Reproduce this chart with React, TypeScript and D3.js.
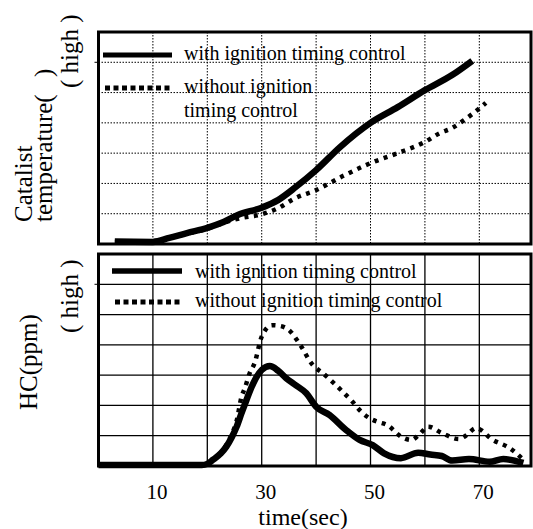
import React from 'react';
import * as d3 from 'd3';

// x axis (sec)
const timeTicks = [10, 30, 50, 70];
const gridTimes = [10, 20, 30, 40, 50, 60, 70];
const gridLevels = [1, 2, 3, 4, 5, 6];

// catalist temperature (relative units, 0..7 grid)
const tempWithT = [3, 10, 13, 16.25, 20, 22.5, 25.6, 30, 33, 36.25, 40, 44.4, 50, 55, 60, 65, 68.7];
const tempWithV = [0.08, 0.07, 0.2, 0.36, 0.53, 0.69, 0.96, 1.2, 1.45, 1.88, 2.44, 3.2, 4.0, 4.52, 5.08, 5.58, 6.05];
const tempWithoutT = [3, 10, 13, 16, 20, 23, 26, 30, 33, 36, 40, 45, 50, 55, 60, 62.7, 65, 67.2, 68.7, 70.1, 71.2];
const tempWithoutV = [0.07, 0.07, 0.2, 0.33, 0.5, 0.7, 0.85, 0.98, 1.18, 1.5, 1.78, 2.25, 2.67, 3.0, 3.37, 3.66, 3.83, 4.09, 4.29, 4.49, 4.66];

// HC (relative units, 0..7 grid)
const hcWithT = [0, 10, 19, 20, 21, 22.5, 23.5, 24.5, 25.4, 26.3, 27.2, 28.5, 30, 31.5, 33, 34.5, 36, 38.2, 40, 42.5, 45.5, 48, 50.4, 52.5, 55.6, 58.75, 61, 63.1, 65, 68.1, 71.9, 74.4, 78.1];
const hcWithV = [0.03, 0.03, 0.03, 0.07, 0.2, 0.42, 0.64, 0.95, 1.3, 1.75, 2.18, 2.75, 3.17, 3.3, 3.15, 2.9, 2.7, 2.4, 1.96, 1.68, 1.19, 0.86, 0.69, 0.42, 0.26, 0.44, 0.38, 0.33, 0.18, 0.23, 0.14, 0.23, 0.1];
const hcWithoutT = [0, 19, 20, 21, 22.5, 23.5, 24.5, 25.4, 26.3, 26.9, 27.8, 28.7, 30, 31.9, 33.5, 35, 36.9, 39.4, 41.2, 43, 44.9, 46.7, 48.3, 49.8, 51.5, 53.1, 55.6, 57.5, 59, 60.6, 63.1, 66.25, 67.5, 69.4, 72.5, 75.6, 77.8];
const hcWithoutV = [0.03, 0.03, 0.07, 0.2, 0.45, 0.7, 1.05, 1.5, 2.29, 2.57, 3.07, 3.4, 4.27, 4.65, 4.62, 4.49, 4.05, 3.33, 3.07, 2.78, 2.45, 2.12, 1.79, 1.58, 1.45, 1.35, 0.97, 0.86, 1.05, 1.3, 1.09, 0.89, 1.0, 1.25, 0.86, 0.59, 0.26];

const legendWith = 'with ignition timing control';
const legendWithout = 'without ignition timing control';

const x = d3.scaleLinear().domain([0, 79.5]).range([98.5, 531]);
const yTop = d3.scaleLinear().domain([0, 7]).range([244, 32]);
const yBot = d3.scaleLinear().domain([0, 7]).range([466, 254]);

const toPts = (ts: number[], vs: number[]) => ts.map((t, i) => [t, vs[i]] as [number, number]);

// serif text helper: font set on the text element itself
function T({ size, anchor, ...rest }: { size: number; anchor?: string; x?: number; y?: number; transform?: string; children: React.ReactNode }) {
  return (
    <text {...rest} textAnchor={anchor || 'start'} style={{ fontFamily: '"Liberation Serif"', fontSize: size }} />
  );
}

function Panel({ y, dotted, children }: { y: d3.ScaleLinear<number, number>; dotted: boolean; children?: React.ReactNode }) {
  const [x0, x1] = x.range();
  const [yb, yt] = y.range();
  const gridStyle = dotted
    ? { stroke: '#000', strokeWidth: 1, strokeDasharray: '1.5 1.5' }
    : { stroke: '#000', strokeWidth: 1.3 };
  return (
    <g>
      {gridTimes.map((t) => (
        <line key={'v' + t} x1={x(t)} x2={x(t)} y1={yt} y2={yb} {...gridStyle} />
      ))}
      {gridLevels.map((v) => (
        <line key={'h' + v} x1={x0} x2={x1} y1={y(v)} y2={y(v)} {...gridStyle} />
      ))}
      {/* small tick left of axis */}
      <line x1={x0 - 4} x2={x0} y1={y(6)} y2={y(6)} stroke="#000" strokeWidth={1} />
      {children}
      <rect x={x0} y={yt} width={x1 - x0} height={yb - yt} fill="none" stroke="#000" strokeWidth={3} />
    </g>
  );
}

export default function App() {
  const lineTop = d3.line<[number, number]>().x((d) => x(d[0])).y((d) => yTop(d[1])).curve(d3.curveMonotoneX);
  const lineBot = d3.line<[number, number]>().x((d) => x(d[0])).y((d) => yBot(d[1])).curve(d3.curveMonotoneX);

  const dotted = { fill: 'none', stroke: '#000', strokeWidth: 4.5, strokeDasharray: '4 5.5' };
  const solid = { fill: 'none', stroke: '#000', strokeWidth: 6.5, strokeLinejoin: 'round' as const };

  return (
    <svg width={533} height={529} style={{ position: 'absolute', left: 0, top: 0, background: '#fff' }}>
      <Panel y={yTop} dotted={true}>
        <path d={lineTop(toPts(tempWithoutT, tempWithoutV)) || ''} {...dotted} />
        <path d={lineTop(toPts(tempWithT, tempWithV)) || ''} {...solid} />
        <line x1={103} x2={172} y1={55} y2={55} stroke="#000" strokeWidth={5} />
        <line x1={105} x2={172} y1={88} y2={88} stroke="#000" strokeWidth={5} strokeDasharray="5 3.5" />
        <T size={20} x={184} y={60}>{legendWith}</T>
        <T size={20} x={184} y={93}>without ignition</T>
        <T size={20} x={184} y={117}>timing control</T>
      </Panel>
      <Panel y={yBot} dotted={false}>
        <path d={lineBot(toPts(hcWithoutT, hcWithoutV)) || ''} {...dotted} />
        <path d={lineBot(toPts(hcWithT, hcWithV)) || ''} {...solid} />
        <line x1={112} x2={182} y1={271} y2={271} stroke="#000" strokeWidth={5.5} />
        <line x1={115} x2={182} y1={302} y2={302} stroke="#000" strokeWidth={5} strokeDasharray="5 3.5" />
        <T size={20} x={195} y={278}>{legendWith}</T>
        <T size={20} x={195} y={307}>{legendWithout}</T>
      </Panel>

      {/* x tick labels */}
      {timeTicks.map((t) => (
        <T key={t} size={21} anchor="middle" x={x(t) + 4} y={499}>{t}</T>
      ))}
      <T size={24} anchor="middle" x={303} y={525}>time(sec)</T>

      {/* y axis titles */}
      <T size={25} transform="translate(31.5,222) rotate(-90)">Catalist</T>
      <T size={25} transform="translate(52,222) rotate(-90)">temperature(</T>
      <T size={25} transform="translate(52,77) rotate(-90)">)</T>
      <T size={25} transform="translate(78,88) rotate(-90)">( high )</T>
      <T size={25} transform="translate(37,410) rotate(-90)">HC(ppm)</T>
      <T size={25} transform="translate(78,333) rotate(-90)">( high )</T>
    </svg>
  );
}
